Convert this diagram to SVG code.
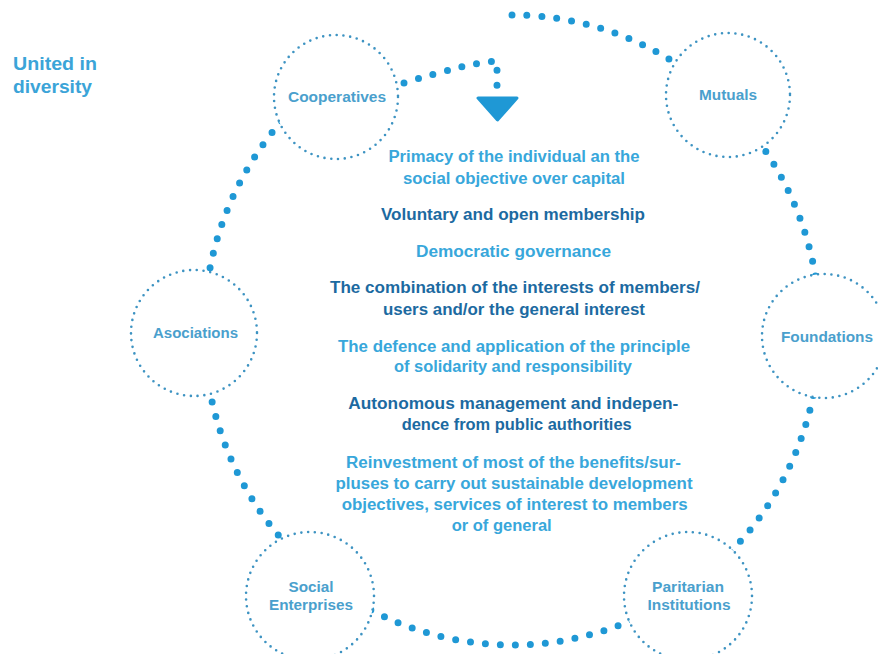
<svg xmlns="http://www.w3.org/2000/svg" width="878" height="654" viewBox="0 0 878 654">
  <style>
    .ring { fill: none; stroke: #1f98d5; stroke-width: 7; stroke-linecap: round; stroke-dasharray: 0 15; }
    .node { fill: #ffffff; stroke: #3d93c2; stroke-width: 2.6; stroke-linecap: round; stroke-dasharray: 0 6.8; }
    .nl { font-family: "Liberation Sans", Arial, sans-serif; font-weight: bold; font-size: 14px; fill: #4aa0cd; text-anchor: middle; }
    .title { font-family: "Liberation Sans", Arial, sans-serif; font-weight: bold; font-size: 19px; fill: #3ba4d8; }
    .p { font-family: "Liberation Sans", Arial, sans-serif; font-weight: bold; font-size: 16px; text-anchor: middle; }
    .lt { fill: #38a7db; }
    .dk { fill: #1c6aa1; }
  </style>

  <rect width="878" height="654" fill="#ffffff"/>

  <g id="title">
    <text class="title" x="13" y="70" textLength="84" lengthAdjust="spacingAndGlyphs">United in</text>
    <text class="title" x="13" y="93" textLength="79" lengthAdjust="spacingAndGlyphs">diversity</text>
  </g>

  <!-- dotted loop running through all the members, ending in the arrow -->
  <g id="connectors">
    <path class="ring" d="M 512 15 A 308 315 0 1 1 336 71.5"/>
    <path class="ring" d="M 404 83 C 440 72 475 62 497 61 L 497 90"/>
    <path d="M 478 98 L 517 98 L 497.5 120 Z" fill="#1f98d5" stroke="#1f98d5" stroke-width="3" stroke-linejoin="round"/>
  </g>

  <g id="cooperatives">
    <circle class="node" cx="336" cy="97" r="62"/>
    <text class="nl" x="337" y="102" textLength="98" lengthAdjust="spacingAndGlyphs">Cooperatives</text>
  </g>
  <g id="mutuals">
    <circle class="node" cx="728" cy="95" r="62"/>
    <text class="nl" x="728" y="100" textLength="58" lengthAdjust="spacingAndGlyphs">Mutuals</text>
  </g>
  <g id="asociations">
    <circle class="node" cx="194" cy="333" r="63"/>
    <text class="nl" x="195.5" y="338" textLength="85" lengthAdjust="spacingAndGlyphs">Asociations</text>
  </g>
  <g id="foundations">
    <circle class="node" cx="824" cy="336" r="62"/>
    <text class="nl" x="827" y="342" textLength="92" lengthAdjust="spacingAndGlyphs">Foundations</text>
  </g>
  <g id="social-enterprises">
    <circle class="node" cx="310" cy="596" r="64"/>
    <text class="nl" x="311" y="592" textLength="45" lengthAdjust="spacingAndGlyphs">Social</text>
    <text class="nl" x="311" y="610" textLength="84" lengthAdjust="spacingAndGlyphs">Enterprises</text>
  </g>
  <g id="paritarian-institutions">
    <circle class="node" cx="688" cy="596" r="64"/>
    <text class="nl" x="688" y="592" textLength="72" lengthAdjust="spacingAndGlyphs">Paritarian</text>
    <text class="nl" x="689" y="610" textLength="83" lengthAdjust="spacingAndGlyphs">Institutions</text>
  </g>

  <g id="principles">
    <text class="p lt" x="514" y="162" textLength="251" lengthAdjust="spacingAndGlyphs">Primacy of the individual an the</text>
    <text class="p lt" x="514" y="184" textLength="222" lengthAdjust="spacingAndGlyphs">social objective over capital</text>
    <text class="p dk" x="513" y="220" textLength="264" lengthAdjust="spacingAndGlyphs">Voluntary and open membership</text>
    <text class="p lt" x="513.5" y="257" textLength="195" lengthAdjust="spacingAndGlyphs">Democratic governance</text>
    <text class="p dk" x="515" y="293" textLength="370" lengthAdjust="spacingAndGlyphs">The combination of the interests of members/</text>
    <text class="p dk" x="514" y="315" textLength="262" lengthAdjust="spacingAndGlyphs">users and/or the general interest</text>
    <text class="p lt" x="514" y="352" textLength="352" lengthAdjust="spacingAndGlyphs">The defence and application of the principle</text>
    <text class="p lt" x="513" y="372" textLength="238" lengthAdjust="spacingAndGlyphs">of solidarity and responsibility</text>
    <text class="p dk" x="513.3" y="409" textLength="330" lengthAdjust="spacingAndGlyphs">Autonomous management and indepen-</text>
    <text class="p dk" x="516.7" y="430" textLength="230" lengthAdjust="spacingAndGlyphs">dence from public authorities</text>
    <text class="p lt" x="513.5" y="468" textLength="335" lengthAdjust="spacingAndGlyphs">Reinvestment of most of the benefits/sur-</text>
    <text class="p lt" x="514" y="489" textLength="357" lengthAdjust="spacingAndGlyphs">pluses to carry out sustainable development</text>
    <text class="p lt" x="514.7" y="510" textLength="346" lengthAdjust="spacingAndGlyphs">objectives, services of interest to members</text>
    <text class="p lt" x="501.7" y="531" textLength="100" lengthAdjust="spacingAndGlyphs">or of general</text>
  </g>
</svg>
